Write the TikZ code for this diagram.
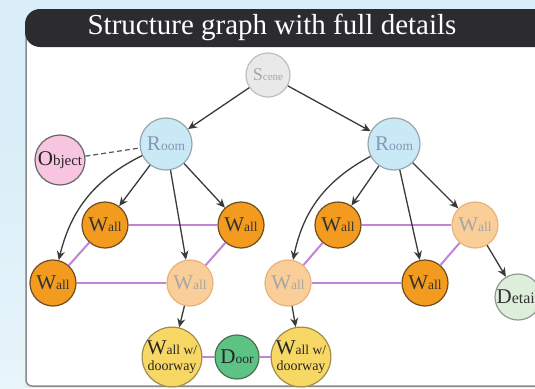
\documentclass[tikz,border=0pt]{standalone}
\usepackage{fontspec}
\setmainfont{Liberation Serif}
\usepackage{xcolor}
\usetikzlibrary{arrows.meta,positioning}

\definecolor{bgblue}{HTML}{D9EEF8}
\definecolor{bgpink}{HTML}{F6E2DF}
\definecolor{headdark}{HTML}{2C2C30}
\definecolor{framegray}{HTML}{8A8A8A}
\definecolor{walldark}{HTML}{F39B1F}
\definecolor{walledge}{HTML}{6E4C1F}
\definecolor{walllight}{HTML}{F9CE98}
\definecolor{walllightedge}{HTML}{E8B27A}
\definecolor{roomblue}{HTML}{C9E9F6}
\definecolor{roomedge}{HTML}{98A6AD}
\definecolor{scenegray}{HTML}{E9E9E9}
\definecolor{objpink}{HTML}{F7C5E0}
\definecolor{doorgreen}{HTML}{5DC384}
\definecolor{dwyellow}{HTML}{F8D864}
\definecolor{detailgreen}{HTML}{DDEFDA}
\definecolor{adjpurple}{HTML}{C383D6}
\definecolor{arrowgray}{HTML}{3A3A3A}

% small lower-case part of a label
\newcommand{\lc}[1]{{\fontsize{13.5}{14}\selectfont #1}}

\tikzset{
  gnode/.style={circle, inner sep=0pt, line width=1.2pt, align=center,
    font=\fontsize{21}{21}\selectfont},
  wallnode/.style={gnode, minimum size=46pt, fill=walldark, draw=walledge, text=black!80},
  palewall/.style={gnode, minimum size=46pt, fill=walllight, draw=walllightedge, text=black!35},
  roomnode/.style={gnode, minimum size=52pt, fill=roomblue, draw=roomedge, text=roomedge!90!blue},
  scenenode/.style={gnode, minimum size=44pt, fill=scenegray, draw=black!25, text=black!35,
    font=\fontsize{18}{18}\selectfont},
  objnode/.style={gnode, minimum size=50pt, fill=objpink, draw=black!60, text=black!85},
  doornode/.style={gnode, minimum size=44pt, fill=doorgreen, draw=green!20!black!70, text=black!85},
  dwnode/.style={gnode, minimum size=56pt, fill=dwyellow, draw=black!55!yellow!60!brown, text=black!85},
  detailnode/.style={gnode, minimum size=46pt, fill=detailgreen, draw=green!15!black!45, text=black!80},
  link/.style={draw=arrowgray, line width=1.3pt, -{Stealth[length=9pt,width=8pt]}},
  adj/.style={draw=adjpurple, line width=2pt}
}

\begin{document}
\begin{tikzpicture}[x=1pt,y=-1pt]
\useasboundingbox (0,0) rectangle (535,388);
\clip (0,0) rectangle (535,388);

% background and panel
\fill[bgblue] (0,0) rectangle (535,388);
\shade[top color=bgblue, middle color=bgpink, bottom color=bgblue!60!white] (0,130) rectangle (25,388);
\filldraw[fill=white, draw=framegray, line width=1.5pt, rounded corners=6pt]
  (26,30) -- (26,386) -- (560,386) -- (560,30);
\fill[headdark, rounded corners=15pt] (25,9) rectangle (580,47);
\node[text=white, font=\fontsize{29}{30}\selectfont] (title) at (272,27) {Structure graph with full details};

% nodes
\node[scenenode] (scene) at (268,75) {S{\fontsize{11}{11}\selectfont cene}};
\node[roomnode] (roomL) at (166,144) {R\lc{oom}};
\node[roomnode] (roomR) at (394,144) {R\lc{oom}};
\node[objnode] (object) at (60,160) {O{\fontsize{15}{15}\selectfont bject}};

\node[wallnode] (wallLa) at (105,225) {W\lc{all}};
\node[wallnode] (wallLb) at (241,225) {W\lc{all}};
\node[wallnode] (wallLc) at (53,283) {W\lc{all}};
\node[palewall] (wallLd) at (190,283) {W\lc{all}};

\node[wallnode] (wallRa) at (338,225) {W\lc{all}};
\node[palewall] (wallRb) at (475,225) {W\lc{all}};
\node[palewall] (wallRc) at (288,283) {W\lc{all}};
\node[wallnode] (wallRd) at (425,283) {W\lc{all}};

\node[detailnode] (detail) at (518,297) {D{\fontsize{16}{16}\selectfont etail}};

\node[dwnode] (dwL) at (172,357) {W\lc{all w/}\\[-5pt]{\fontsize{14}{14}\selectfont doorway}};
\node[doornode] (door) at (237,357) {D\lc{oor}};
\node[dwnode] (dwR) at (301,357) {W\lc{all w/}\\[-5pt]{\fontsize{14}{14}\selectfont doorway}};

% adjacency
\draw[adj] (wallLa) -- (wallLb);
\draw[adj] (wallLa) -- (wallLc);
\draw[adj] (wallLc) -- (wallLd);
\draw[adj] (wallLb) -- (wallLd);
\draw[adj] (wallRa) -- (wallRb);
\draw[adj] (wallRa) -- (wallRc);
\draw[adj] (wallRc) -- (wallRd);
\draw[adj] (wallRb) -- (wallRd);
\draw[adj] (dwL) -- (door);
\draw[adj] (door) -- (dwR);

% hierarchy
\draw[link] (scene) -- (roomL);
\draw[link] (scene) -- (roomR);
\draw[draw=black!65, line width=1.2pt, dash pattern=on 5pt off 3pt] (object) -- (roomL);
\draw[link] (roomL) to[bend right=25] (wallLc);
\draw[link] (roomL) -- (wallLa);
\draw[link] (roomL) -- (wallLd);
\draw[link] (roomL) -- (wallLb);
\draw[link] (roomR) to[bend right=25] (wallRc);
\draw[link] (roomR) -- (wallRa);
\draw[link] (roomR) -- (wallRd);
\draw[link] (roomR) -- (wallRb);
\draw[link] (wallRb) -- (detail);
\draw[link] (wallLd) -- (dwL);
\draw[link] (wallRc) -- (dwR);
\end{tikzpicture}
\end{document}
